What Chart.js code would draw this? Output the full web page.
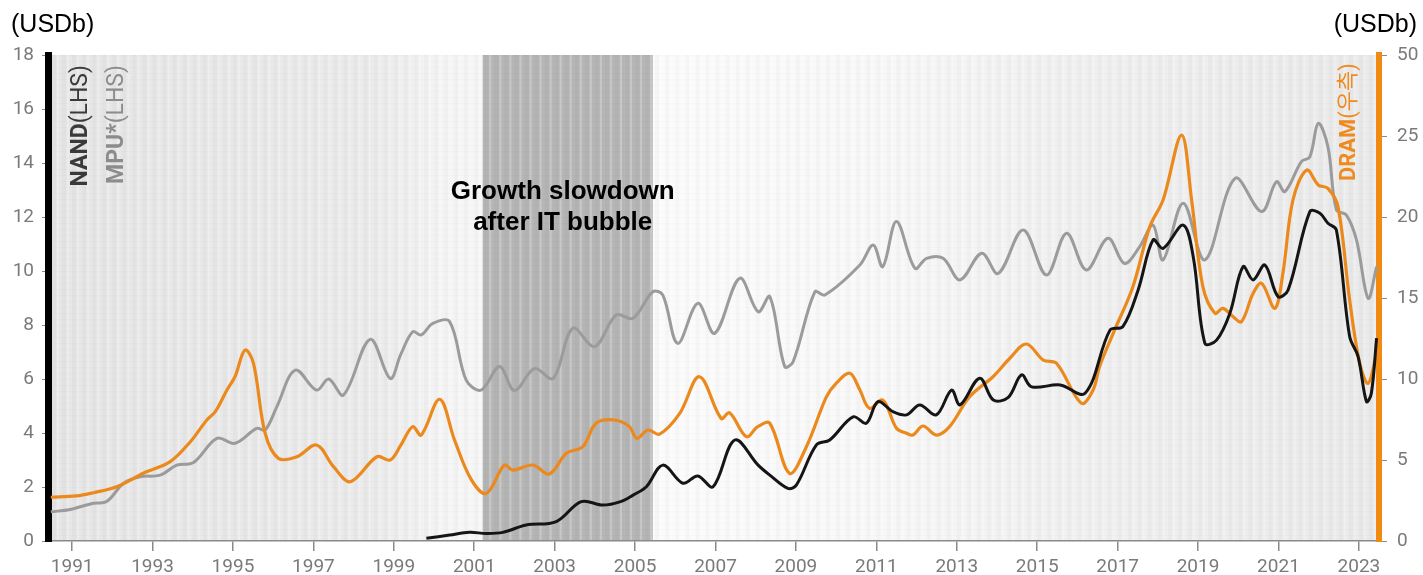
<!DOCTYPE html>
<html><head><meta charset="utf-8">
<script src="https://cdn.jsdelivr.net/npm/chart.js@4.4.1/dist/chart.umd.min.js"></script>
<style>html,body{margin:0;padding:0;background:#fff}#wrap{position:relative;width:1423px;height:575px}</style>
</head><body><div id="wrap"><canvas id="c" width="1423" height="575"></canvas></div>
<script>
// ---- tick labels ----
const xTickYears = [1991,1993,1995,1997,1999,2001,2003,2005,2007,2009,2011,2013,2015,2017,2019,2021,2023];
const rightTickValues = [0,5,10,15,20,25,30];
const rightTickLabels = ['0','5','10','15','20','25','50'];
const unitLabel = '(USDb)';
const annotationLines = ['Growth slowdown','after IT bubble'];
const shadeStart = 2001.21, shadeEnd = 2005.44, annotationYear = 2003.2;

// ---- series: MPU (LHS) ----
const mpuYears = [1990.47,1990.95,1991.53,1991.86,1992.28,1992.69,1993.19,1993.60,1994.02,1994.60,1995.05,1995.59,1995.80,1996.09,1996.55,1997.08,1997.38,1997.75,1998.41,1998.91,1999.17,1999.47,1999.68,1999.97,2000.39,2000.80,2001.17,2001.63,2002.00,2002.50,2002.96,2003.45,2003.99,2004.53,2004.95,2005.44,2005.69,2006.06,2006.56,2006.98,2007.60,2008.06,2008.35,2008.72,2008.93,2009.47,2009.72,2010.59,2010.92,2011.16,2011.50,2011.96,2012.25,2012.66,2013.08,2013.62,2014.03,2014.65,2015.23,2015.73,2016.22,2016.76,2017.17,2017.55,2017.88,2018.13,2018.63,2019.17,2019.92,2020.58,2020.95,2021.16,2021.57,2021.78,2021.99,2022.23,2022.44,2022.69,2022.94,2023.23,2023.44];
const mpuValues = [1.08,1.17,1.40,1.46,2.14,2.38,2.44,2.81,2.91,3.80,3.62,4.17,4.11,4.97,6.33,5.59,6.00,5.41,7.47,6.02,6.90,7.75,7.63,8.06,8.12,5.96,5.59,6.46,5.57,6.39,6.02,7.88,7.20,8.37,8.25,9.23,9.11,7.32,8.80,7.69,9.73,8.49,9.05,6.46,6.64,9.23,9.11,10.22,10.96,10.16,11.83,10.10,10.47,10.47,9.67,10.66,9.91,11.52,9.85,11.40,10.04,11.21,10.28,10.90,11.70,10.41,12.51,10.41,13.43,12.20,13.31,12.94,14.05,14.23,15.47,14.60,12.26,12.07,11.15,8.99,10.16];

// ---- series: NAND (LHS) ----
const nandYears = [1999.81,2000.39,2000.88,2001.30,2001.71,2002.29,2003.04,2003.66,2004.20,2004.64,2004.95,2005.28,2005.69,2006.19,2006.56,2006.94,2007.48,2008.06,2008.35,2008.80,2009.01,2009.51,2009.84,2010.42,2010.75,2011.04,2011.41,2011.75,2012.08,2012.49,2012.87,2013.08,2013.57,2013.91,2014.28,2014.61,2014.86,2015.57,2016.19,2016.81,2017.13,2017.51,2017.88,2018.13,2018.63,2018.88,2019.17,2019.46,2019.79,2020.12,2020.37,2020.66,2020.99,2021.24,2021.78,2022.03,2022.23,2022.44,2022.77,2022.98,2023.19,2023.31,2023.44];
const nandValues = [0.10,0.22,0.32,0.28,0.32,0.59,0.72,1.46,1.33,1.46,1.70,2.01,2.81,2.14,2.41,2.01,3.74,2.81,2.44,1.95,2.07,3.56,3.74,4.60,4.36,5.16,4.79,4.67,5.04,4.67,5.59,5.04,6.03,5.22,5.32,6.15,5.71,5.78,5.47,7.81,7.94,9.30,11.15,10.84,11.70,10.53,7.32,7.44,8.43,10.16,9.67,10.22,9.05,9.30,12.20,12.14,11.77,11.52,7.57,6.83,5.16,5.47,7.51];

// ---- series: DRAM (RHS) ----
const dramYears = [1990.47,1991.11,1991.53,1992.11,1992.77,1993.44,1993.94,1994.35,1994.56,1994.85,1995.05,1995.30,1995.51,1995.80,1996.13,1996.59,1997.08,1997.50,1997.92,1998.58,1998.91,1999.17,1999.47,1999.68,2000.14,2000.51,2000.93,2001.30,2001.75,2001.96,2002.46,2002.87,2003.29,2003.70,2004.03,2004.49,2004.86,2005.04,2005.32,2005.61,2006.11,2006.60,2007.14,2007.35,2007.77,2008.05,2008.35,2008.84,2009.26,2009.76,2010.00,2010.34,2010.59,2010.83,2011.16,2011.50,2011.75,2011.91,2012.16,2012.49,2012.82,2013.32,2013.90,2014.32,2014.73,2015.15,2015.48,2016.10,2016.39,2016.55,2016.89,2017.38,2017.80,2018.13,2018.59,2018.84,2019.12,2019.42,2019.62,2019.87,2020.08,2020.37,2020.58,2020.91,2021.11,2021.36,2021.70,2021.99,2022.23,2022.48,2022.77,2023.02,2023.23,2023.44];
const dramValues = [2.70,2.78,2.98,3.35,4.18,4.90,6.13,7.47,7.98,9.32,10.14,11.79,10.97,6.65,5.10,5.20,5.93,4.59,3.66,5.20,5.00,5.90,7.06,6.54,8.75,6.23,3.77,2.94,4.69,4.38,4.69,4.14,5.41,5.82,7.27,7.47,7.06,6.34,6.85,6.60,7.88,10.14,7.57,7.92,6.44,7.06,7.27,4.18,5.82,8.91,9.73,10.35,9.32,8.19,8.70,6.96,6.65,6.54,7.10,6.54,7.06,8.91,10.14,11.28,12.16,11.17,10.97,8.50,9.32,10.76,12.82,15.70,19.40,21.05,25.06,21.05,15.70,14.06,14.36,13.85,13.54,15.29,15.91,14.36,16.52,21.05,22.90,21.98,21.77,20.64,14.88,10.97,9.73,11.59];

const toPts = (xs, ys) => xs.map((v, i) => ({x: v, y: ys[i]}));

const bgPlugin = {
  id: 'bg',
  beforeDraw(chart) {
    const {ctx, chartArea: a, scales: {x}} = chart;
    const w = a.right - a.left, h = a.bottom - a.top;
    ctx.save();
    const g = ctx.createLinearGradient(a.left, 0, a.right, 0);
    [[1990.4,'#e6e6e6'],[1998.5,'#ebebeb'],[2000.3,'#f5f5f5'],[2006,'#fbfbfb'],[2011,'#f8f8f8'],[2015,'#f1f1f1'],[2023.5,'#eaeaea']]
      .forEach(([yr, c]) => g.addColorStop(Math.min(1, Math.max(0, (x.getPixelForValue(yr) - a.left) / w)), c));
    ctx.fillStyle = g; ctx.fillRect(a.left, a.top, w, h);
    const s0 = x.getPixelForValue(shadeStart), s1 = x.getPixelForValue(shadeEnd);
    ctx.fillStyle = '#b6b6b6'; ctx.fillRect(s0, a.top, s1 - s0, h);
    for (let t = Math.ceil(x.min * 4) / 4; t < x.max; t += 0.25) {
      const px = x.getPixelForValue(t);
      ctx.fillStyle = 'rgba(0,0,0,0.02)'; ctx.fillRect(px, a.top, 4, h);
      ctx.fillStyle = 'rgba(255,255,255,0.25)'; ctx.fillRect(px + 5, a.top, 2, h);
    }
    ctx.fillStyle = 'rgba(0,0,0,0.012)';
    for (let py = a.top; py < a.bottom; py += 6) ctx.fillRect(a.left, py, w, 1);
    ctx.restore();
  }
};

function drawVertical(ctx, parts, color, cx, topY, size) {
  ctx.save();
  ctx.fillStyle = color;
  ctx.textBaseline = 'middle';
  ctx.textAlign = 'left';
  let total = 0;
  const fonts = parts.map(p => (p.bold ? 'bold ' : '') + size + 'px Roboto, "Noto Sans CJK KR", sans-serif');
  parts.forEach((p, i) => { ctx.font = fonts[i]; total += ctx.measureText(p.text).width; });
  ctx.translate(cx, topY);
  ctx.rotate(-Math.PI / 2);
  let pos = -total;
  parts.forEach((p, i) => { ctx.font = fonts[i]; ctx.fillText(p.text, pos, 0); pos += ctx.measureText(p.text).width; });
  ctx.restore();
}

const textPlugin = {
  id: 'texts',
  afterDraw(chart) {
    const {ctx, scales: {x}} = chart;
    ctx.save();
    ctx.fillStyle = '#000';
    ctx.font = '25px "Liberation Sans", Arial, sans-serif';
    ctx.textBaseline = 'alphabetic';
    ctx.textAlign = 'left'; ctx.fillText(unitLabel, 11, 32);
    ctx.textAlign = 'right'; ctx.fillText(unitLabel, 1417, 32);
    ctx.font = 'bold 26px "Liberation Sans", Arial, sans-serif';
    ctx.textAlign = 'center';
    const ax = x.getPixelForValue(annotationYear);
    ctx.fillText(annotationLines[0], ax, 199);
    ctx.fillText(annotationLines[1], ax, 230);
    ctx.restore();
    drawVertical(ctx, [{text: 'NAND', bold: true}, {text: '(LHS)', bold: false}], '#3a3a3a', 81, 65, 23);
    drawVertical(ctx, [{text: 'MPU*', bold: true}, {text: '(LHS)', bold: false}], '#8c8c8c', 117, 65, 23);
    drawVertical(ctx, [{text: 'DRAM', bold: true}, {text: '(우측)', bold: false}], '#ee8a1e', 1349, 63, 22);
  }
};

const tickFont = {family: 'Roboto', size: 19};
const tickColor = '#7a7a7a';

new Chart(document.getElementById('c'), {
  type: 'line',
  data: {
    datasets: [
      {label: 'NAND', data: toPts(nandYears, nandValues), yAxisID: 'y', borderColor: '#151515', borderWidth: 3},
      {label: 'DRAM', data: toPts(dramYears, dramValues), yAxisID: 'y2', borderColor: '#eb891d', borderWidth: 3.2},
      {label: 'MPU', data: toPts(mpuYears, mpuValues), yAxisID: 'y', borderColor: '#9b9b9b', borderWidth: 3}
    ]
  },
  options: {
    responsive: false,
    animation: false,
    devicePixelRatio: 1,
    layout: {padding: {top: 55, bottom: 0, left: 0, right: 0}},
    elements: {point: {radius: 0}, line: {tension: 0.35, fill: false, capBezierPoints: true}},
    plugins: {legend: {display: false}, tooltip: {enabled: false}},
    scales: {
      x: {
        type: 'linear', min: 1990.40, max: 2023.50,
        afterBuildTicks: s => { s.ticks = xTickYears.map(v => ({value: v})); },
        afterFit: s => { s.height = 34; },
        ticks: {callback: v => String(v), autoSkip: false, maxRotation: 0, color: tickColor, font: tickFont, padding: 5},
        grid: {drawOnChartArea: false, drawTicks: true, tickLength: 10, color: '#8a8a8a', lineWidth: 1.5},
        border: {color: '#8a8a8a', width: 1.5}
      },
      y: {
        position: 'left', min: 0, max: 18,
        ticks: {stepSize: 2, color: tickColor, font: tickFont, padding: 8},
        grid: {drawOnChartArea: false, drawTicks: true, tickLength: 6, color: '#8a8a8a'},
        border: {color: '#000', width: 7},
        afterFit: s => { s.width = 48; }
      },
      y2: {
        position: 'right', min: 0, max: 30,
        afterBuildTicks: s => { s.ticks = rightTickValues.map(v => ({value: v})); },
        ticks: {callback: (v, i) => rightTickLabels[i], color: tickColor, font: tickFont, padding: 10},
        grid: {drawOnChartArea: false, drawTicks: true, tickLength: 8, color: '#8a8a8a'},
        border: {color: '#f08a10', width: 6},
        afterFit: s => { s.width = 44; }
      }
    }
  },
  plugins: [bgPlugin, textPlugin]
});
</script>
</body></html>
